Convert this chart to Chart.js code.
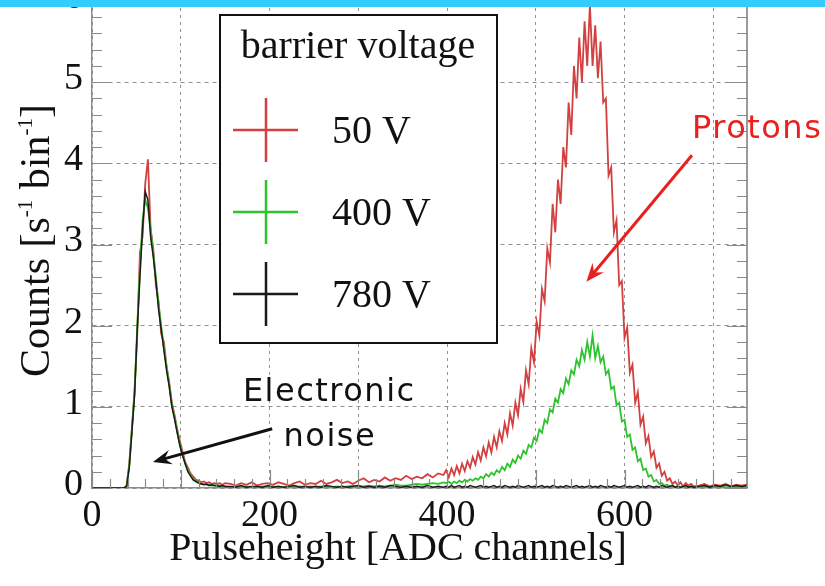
<!DOCTYPE html>
<html>
<head>
<meta charset="utf-8">
<script src="https://cdn.jsdelivr.net/npm/chart.js@4.4.1/dist/chart.umd.min.js"></script>
<style>
  html, body { margin: 0; padding: 0; background: #fff; }
  #wrap { position: relative; width: 825px; height: 586px; overflow: hidden; }
</style>
</head>
<body>
<div id="wrap"><canvas id="spectrum" width="825" height="586"></canvas></div>
<script>
// ADC channel of each bin
var channels = [
    0, 10, 20, 30,
    33, 36, 39, 42, 45, 48, 51, 54, 57, 60,
    63, 66, 69, 72, 75, 78, 81, 84, 87, 90,
    93, 96, 99, 102, 105, 108, 111, 114, 117, 120,
    123, 126, 129, 132, 135, 138, 141, 144, 147, 150,
    156, 162, 168, 174, 180, 186, 192, 198, 204, 210,
    216, 222, 228, 234, 240, 246, 252, 258, 264, 270,
    276, 282, 288, 294, 300, 306, 312, 318, 324, 330,
    336, 342, 348, 354, 360, 366, 372, 378, 384, 390,
    396,
    399, 402, 405, 408, 411, 414, 417, 420, 423, 426,
    429, 432, 435, 438, 441, 444, 447, 450, 453, 456,
    459, 462, 465, 468, 471, 474, 477, 480, 483, 486,
    489, 492, 495, 498, 501, 504, 507, 510, 513, 516,
    519, 522, 525, 528, 531, 534, 537, 540, 543, 546,
    549, 552, 555, 558, 561, 564, 567, 570, 573, 576,
    579, 582, 585, 588, 591, 594, 597, 600, 603, 606,
    609, 612, 615, 618, 621, 624, 627, 630, 633, 636,
    639, 642, 645, 648, 651, 654, 657, 660, 663, 666,
    669, 672, 675, 678,
    684, 690, 696, 702, 708, 714, 720, 726, 732, 738
];

// counts [1/s/bin] for each barrier voltage
var counts50V = [
    0, 0, 0, 0,
    0, 0, 0.03, 0.3, 0.75, 1.2, 1.9, 2.9, 3.1, 3.75,
    4.05, 3.2, 2.95, 2.5, 2.3, 1.9, 1.8, 1.5, 1.3, 1.05,
    0.9, 0.72, 0.58, 0.45, 0.32, 0.25, 0.18, 0.14, 0.1, 0.09,
    0.07, 0.08, 0.06, 0.07, 0.05, 0.06, 0.05, 0.06, 0.04, 0.06,
    0.05, 0.03, 0.06, 0.04, 0.07, 0.03, 0.05, 0.06, 0.04, 0.07,
    0.05, 0.03, 0.06, 0.08, 0.04, 0.06, 0.05, 0.09, 0.05, 0.07,
    0.1, 0.06, 0.08, 0.05, 0.09, 0.12, 0.07, 0.1, 0.08, 0.13,
    0.09, 0.12, 0.1, 0.15, 0.11, 0.14, 0.12, 0.17, 0.13, 0.18,
    0.16,
    0.22, 0.13, 0.24, 0.16, 0.27, 0.18, 0.3, 0.21, 0.33, 0.25,
    0.38, 0.29, 0.44, 0.34, 0.5, 0.39, 0.56, 0.44, 0.63, 0.5,
    0.7, 0.58, 0.8, 0.66, 0.92, 0.77, 1.05, 0.9, 1.22, 1.06,
    1.45, 1.28, 1.72, 1.55, 2.05, 1.88, 2.45, 2.3, 2.95, 2.78,
    3.5, 3.15, 3.8, 3.5, 4.2, 3.95, 4.75, 4.35, 5.2, 4.8,
    5.55, 5.0, 5.75, 5.2, 5.95, 5.2, 5.7, 5.05, 5.5, 4.75,
    4.8, 3.85, 3.95, 3.15, 3.3, 2.5, 2.55, 1.85, 1.98, 1.42,
    1.52, 1.05, 1.18, 0.78, 0.88, 0.55, 0.64, 0.38, 0.45, 0.25,
    0.3, 0.15, 0.2, 0.09, 0.12, 0.05, 0.08, 0.03, 0.07, 0.02,
    0.06, 0.03, 0.05, 0.02,
    0.03, 0.05, 0.02, 0.04, 0.03, 0.05, 0.02, 0.04, 0.03, 0.04
];
var counts400V = [
    0, 0, 0, 0,
    0, 0, 0.02, 0.28, 0.72, 1.2, 2.0, 2.7, 3.3, 3.55,
    3.45, 3.2, 2.9, 2.6, 2.25, 2.0, 1.72, 1.5, 1.28, 1.02,
    0.88, 0.7, 0.54, 0.42, 0.3, 0.22, 0.16, 0.11, 0.09, 0.07,
    0.05, 0.05, 0.04, 0.04, 0.03, 0.03, 0.02, 0.03, 0.02, 0.02,
    0.01, 0.02, 0.01, 0.02, 0.01, 0.01, 0.02, 0.01, 0.02, 0.01,
    0.01, 0.02, 0.01, 0.02, 0.01, 0.02, 0.01, 0.02, 0.02, 0.01,
    0.02, 0.01, 0.02, 0.03, 0.02, 0.02, 0.03, 0.02, 0.03, 0.02,
    0.03, 0.04, 0.03, 0.03, 0.04, 0.05, 0.04, 0.05, 0.06, 0.05,
    0.07,
    0.06, 0.08, 0.05, 0.08, 0.06, 0.09, 0.07, 0.1, 0.08, 0.11,
    0.09, 0.12, 0.1, 0.14, 0.12, 0.17, 0.14, 0.19, 0.16, 0.22,
    0.19, 0.26, 0.22, 0.3, 0.26, 0.35, 0.31, 0.4, 0.36, 0.46,
    0.42, 0.53, 0.5, 0.62, 0.58, 0.72, 0.68, 0.84, 0.8, 0.97,
    0.93, 1.1, 1.05, 1.22, 1.17, 1.35, 1.28, 1.45, 1.4, 1.58,
    1.5, 1.7, 1.58, 1.8, 1.62, 1.88, 1.6, 1.75, 1.55, 1.62,
    1.4, 1.45, 1.22, 1.25, 1.02, 1.05, 0.82, 0.84, 0.63, 0.66,
    0.47, 0.5, 0.33, 0.36, 0.22, 0.24, 0.14, 0.16, 0.08, 0.1,
    0.05, 0.06, 0.03, 0.04, 0.02, 0.03, 0.01, 0.02, 0.01, 0.02,
    0.01, 0.01, 0.02, 0.01,
    0.01, 0.02, 0.01, 0.01, 0.02, 0.01, 0.01, 0.02, 0.01, 0.01
];
var counts780V = [
    0, 0, 0, 0,
    0, 0, 0.02, 0.25, 0.7, 1.15, 1.95, 2.6, 3.2, 3.65,
    3.55, 3.1, 2.85, 2.55, 2.2, 1.95, 1.7, 1.45, 1.25, 1.0,
    0.85, 0.68, 0.52, 0.4, 0.3, 0.2, 0.15, 0.1, 0.08, 0.06,
    0.05, 0.04, 0.05, 0.03, 0.04, 0.03, 0.03, 0.02, 0.03, 0.02,
    0.02, 0.01, 0.03, 0.01, 0.02, 0.02, 0.01, 0.03, 0.01, 0.02,
    0.01, 0.02, 0.03, 0.01, 0.02, 0.01, 0.02, 0.01, 0.03, 0.02,
    0.01, 0.02, 0.01, 0.02, 0.03, 0.01, 0.02, 0.01, 0.02, 0.01,
    0.03, 0.02, 0.01, 0.02, 0.01, 0.02, 0.01, 0.03, 0.01, 0.02,
    0.01,
    0.02, 0.01, 0.03, 0.01, 0.02, 0.03, 0.01, 0.02, 0.01, 0.03,
    0.02, 0.01, 0.02, 0.03, 0.01, 0.02, 0.01, 0.02, 0.03, 0.01,
    0.02, 0.01, 0.03, 0.02, 0.01, 0.02, 0.01, 0.03, 0.02, 0.01,
    0.02, 0.03, 0.01, 0.02, 0.01, 0.02, 0.03, 0.01, 0.02, 0.01,
    0.03, 0.02, 0.01, 0.02, 0.01, 0.03, 0.02, 0.01, 0.02, 0.03,
    0.01, 0.02, 0.01, 0.02, 0.03, 0.01, 0.02, 0.01, 0.03, 0.02,
    0.01, 0.02, 0.01, 0.03, 0.02, 0.01, 0.02, 0.03, 0.01, 0.02,
    0.01, 0.02, 0.03, 0.01, 0.02, 0.01, 0.03, 0.02, 0.01, 0.02,
    0.01, 0.03, 0.02, 0.01, 0.02, 0.03, 0.01, 0.02, 0.01, 0.02,
    0.03, 0.01, 0.02, 0.01,
    0.02, 0.03, 0.01, 0.03, 0.02, 0.04, 0.02, 0.03, 0.02, 0.03
];

var seriesLabels = ['50 V', '400 V', '780 V'];
var seriesColors = ['#d24040', '#2fc42f', '#1a1a1a'];
var xLabelTicks = [0, 200, 400, 600];

var SERIF = '"Liberation Serif", "Times New Roman", serif';
var HAND = '"DejaVu Sans", sans-serif';

function toPoints(values) {
    return channels.map(function(c, i) { return { x: c, y: values[i] }; });
}

function drawArrow(ctx, x1, y1, x2, y2, color, width, head) {
    var a = Math.atan2(y2 - y1, x2 - x1);
    ctx.strokeStyle = color;
    ctx.fillStyle = color;
    ctx.lineWidth = width;
    ctx.beginPath();
    ctx.moveTo(x1, y1);
    ctx.lineTo(x2 - 6 * Math.cos(a), y2 - 6 * Math.sin(a));
    ctx.stroke();
    ctx.beginPath();
    ctx.moveTo(x2, y2);
    ctx.lineTo(x2 - head * Math.cos(a - 0.38), y2 - head * Math.sin(a - 0.38));
    ctx.lineTo(x2 - head * 0.6 * Math.cos(a), y2 - head * 0.6 * Math.sin(a));
    ctx.lineTo(x2 - head * Math.cos(a + 0.38), y2 - head * Math.sin(a + 0.38));
    ctx.closePath();
    ctx.fill();
}

// minor ticks, frame, legend box, axis titles and hand-written notes
var decorations = {
    id: 'decorations',
    afterDatasetsDraw: function(chart) {
        var ctx = chart.ctx, area = chart.chartArea;
        var xs = chart.scales.x, ys = chart.scales.y;
        ctx.save();
        ctx.strokeStyle = '#8a8a8a';
        ctx.lineWidth = 1.2;
        ctx.beginPath();
        for (var i = 0; i <= 30; i++) {
            var py = Math.round(ys.getPixelForValue(i * 0.2)) + 0.5;
            var len = i % 5 === 0 ? 20 : 10;
            ctx.moveTo(area.left, py); ctx.lineTo(area.left + len, py);
            ctx.moveTo(area.right, py); ctx.lineTo(area.right - len, py);
        }
        for (var j = 0; j * 20 <= xs.max; j++) {
            var px = Math.round(xs.getPixelForValue(j * 20)) + 0.5;
            var l = j % 5 === 0 ? 18 : 9;
            ctx.moveTo(px, area.bottom); ctx.lineTo(px, area.bottom - l);
        }
        ctx.stroke();
        ctx.strokeStyle = '#7a7a7a';
        ctx.lineWidth = 1.5;
        ctx.beginPath();
        ctx.moveTo(area.right, area.top);
        ctx.lineTo(area.right, area.bottom);
        ctx.stroke();
        ctx.restore();
    },
    afterDraw: function(chart) {
        var ctx = chart.ctx, area = chart.chartArea;
        var xs = chart.scales.x, ys = chart.scales.y;
        ctx.save();

        // legend
        ctx.fillStyle = '#fff';
        ctx.fillRect(220, 15, 277, 328);
        ctx.strokeStyle = '#111';
        ctx.lineWidth = 2;
        ctx.strokeRect(220, 15, 277, 328);
        ctx.fillStyle = '#111';
        ctx.font = '40px ' + SERIF;
        ctx.textAlign = 'center';
        ctx.textBaseline = 'middle';
        ctx.fillText('barrier voltage', 358, 47);
        chart.data.datasets.forEach(function(ds, k) {
            var cy = 130 + k * 82;
            ctx.strokeStyle = ds.borderColor;
            ctx.lineWidth = 2.5;
            ctx.beginPath();
            ctx.moveTo(233, cy); ctx.lineTo(298, cy);
            ctx.moveTo(266, cy - 32); ctx.lineTo(266, cy + 32);
            ctx.stroke();
            ctx.fillStyle = '#111';
            ctx.textAlign = 'left';
            ctx.fillText(ds.label, 332, cy + 2);
        });

        // axis titles
        ctx.fillStyle = '#111';
        ctx.textAlign = 'center';
        ctx.textBaseline = 'middle';
        ctx.font = '40px ' + SERIF;
        ctx.fillText('Pulseheight [ADC channels]', 398, 549);

        ctx.translate(35, (area.top + area.bottom) / 2 - 4);
        ctx.rotate(-Math.PI / 2);
        var parts = [['Counts [s', 42, 0], ['-1', 21, -17], [' bin', 42, 0], ['-1', 21, -17], [']', 42, 0]];
        var total = 0;
        parts.forEach(function(p) { ctx.font = p[1] + 'px ' + SERIF; total += ctx.measureText(p[0]).width; });
        var cx = -total / 2;
        ctx.textAlign = 'left';
        ctx.textBaseline = 'alphabetic';
        parts.forEach(function(p) {
            ctx.font = p[1] + 'px ' + SERIF;
            ctx.fillText(p[0], cx, 14 + p[2]);
            cx += ctx.measureText(p[0]).width;
        });
        ctx.setTransform(1, 0, 0, 1, 0, 0);

        // notes
        ctx.font = '32px ' + HAND;
        ctx.letterSpacing = '1.5px';
        ctx.textBaseline = 'middle';
        ctx.textAlign = 'left';
        ctx.fillStyle = '#e82020';
        ctx.fillText('Protons', xs.getPixelForValue(676), ys.getPixelForValue(4.41));
        drawArrow(ctx, xs.getPixelForValue(676), ys.getPixelForValue(4.1),
            xs.getPixelForValue(557), ys.getPixelForValue(2.54), '#e82020', 3, 20);
        ctx.fillStyle = '#111';
        ctx.fillText('Electronic', xs.getPixelForValue(170), ys.getPixelForValue(1.18));
        ctx.textAlign = 'center';
        ctx.fillText('noise', xs.getPixelForValue(268), ys.getPixelForValue(0.62));
        drawArrow(ctx, xs.getPixelForValue(203), ys.getPixelForValue(0.73),
            xs.getPixelForValue(68.7), ys.getPixelForValue(0.32), '#111', 3, 20);
        ctx.letterSpacing = '0px';

        // slide header strip
        ctx.fillStyle = '#33ccff';
        ctx.fillRect(0, 0, chart.width, 7);
        ctx.restore();
    }
};

var ctx = document.getElementById('spectrum').getContext('2d');
var spectrumChart = new Chart(ctx, {
    type: 'line',
    data: {
        datasets: [
            { label: seriesLabels[0], data: toPoints(counts50V), borderColor: seriesColors[0], borderWidth: 1.8, order: 3 },
            { label: seriesLabels[1], data: toPoints(counts400V), borderColor: seriesColors[1], borderWidth: 1.8, order: 2 },
            { label: seriesLabels[2], data: toPoints(counts780V), borderColor: seriesColors[2], borderWidth: 1.5, order: 1 }
        ]
    },
    plugins: [decorations],
    options: {
        responsive: false,
        animation: false,
        devicePixelRatio: 1,
        layout: { padding: { top: 1, right: 78, left: 0, bottom: 0 } },
        elements: {
            line: { tension: 0 },
            point: { radius: 0 }
        },
        plugins: {
            legend: { display: false },
            tooltip: { enabled: false }
        },
        scales: {
            x: {
                type: 'linear',
                min: 0,
                max: 738,
                afterFit: function(scale) { scale.height = 98; scale.paddingLeft = 0; scale.paddingRight = 0; },
                ticks: {
                    stepSize: 100,
                    includeBounds: false,
                    maxRotation: 0,
                    autoSkip: false,
                    padding: 5,
                    color: '#111',
                    font: { family: SERIF, size: 38 },
                    callback: function(v) { return xLabelTicks.indexOf(v) >= 0 ? String(v) : ''; }
                },
                grid: { color: 'rgba(110,110,110,0.75)', lineWidth: 1, drawTicks: false },
                border: { display: true, color: '#8c8c8c', width: 1.5, dash: [3, 4] }
            },
            y: {
                min: 0,
                max: 6,
                afterFit: function(scale) { scale.width = 92; scale.paddingTop = 0; scale.paddingBottom = 0; },
                ticks: {
                    stepSize: 1,
                    includeBounds: false,
                    padding: 9,
                    labelOffset: -3,
                    color: '#111',
                    font: { family: SERIF, size: 38 }
                },
                grid: { color: 'rgba(110,110,110,0.75)', lineWidth: 1, drawTicks: false },
                border: { display: true, color: '#8c8c8c', width: 1.5, dash: [4, 4] }
            }
        }
    }
});
</script>
</body>
</html>
